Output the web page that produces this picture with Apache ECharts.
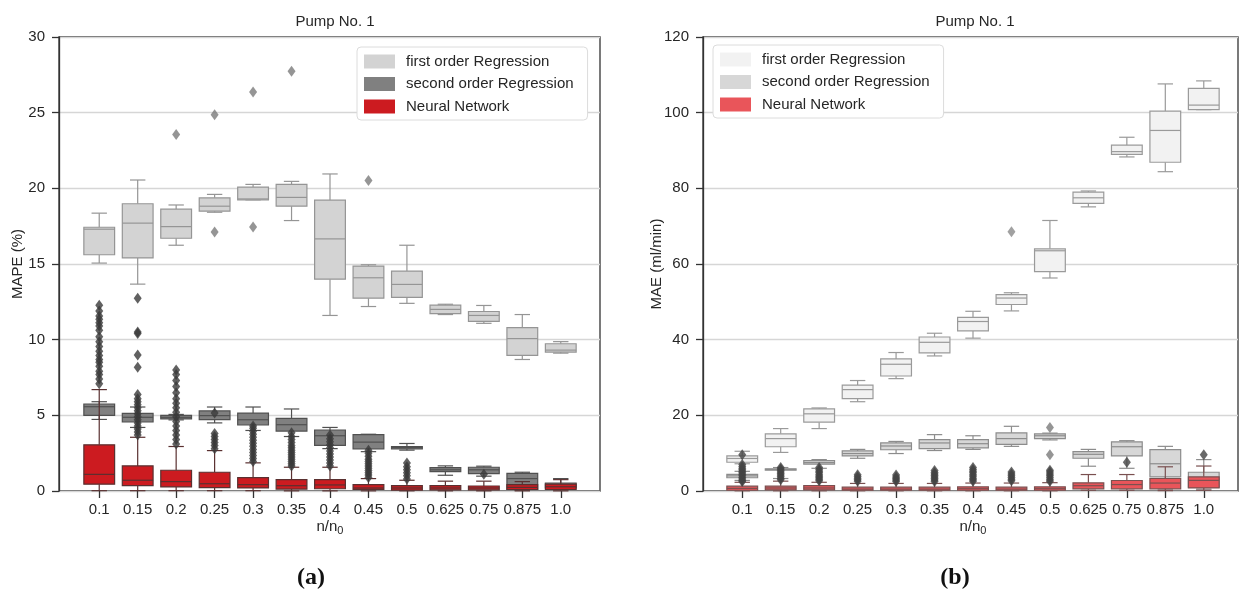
<!DOCTYPE html>
<html><head><meta charset="utf-8">
<script src="https://cdn.jsdelivr.net/npm/echarts@6/dist/echarts.min.js"></script>
<style>html,body{margin:0;padding:0;background:#fff}#c{width:1240px;height:590px}</style>
</head><body><div id="c"></div>
<script>
const categories = ['0.1','0.15','0.2','0.25','0.3','0.35','0.4','0.45','0.5','0.625','0.75','0.875','1.0'];
const seriesNames = ['first order Regression','second order Regression','Neural Network'];
const mapeTicks = [0,5,10,15,20,25,30];
const maeTicks = [0,20,40,60,80,100,120];

// [whisker low, Q1, median, Q3, whisker high]
const mapeFirst = [[15.06,15.61,17.3,17.43,18.36],[13.67,15.4,17.7,18.98,20.55],[16.24,16.7,17.47,18.62,18.9],[18.42,18.49,18.82,19.37,19.6],[19.24,19.24,19.3,20.08,20.26],[17.87,18.82,19.4,20.26,20.46],[11.6,14.0,16.66,19.22,20.95],[12.19,12.74,14.09,14.86,14.95],[12.4,12.8,13.65,14.53,16.24],[11.66,11.72,12.0,12.28,12.34],[11.08,11.21,11.6,11.86,12.26],[8.69,8.96,10.07,10.8,11.66],[9.11,9.18,9.31,9.73,9.87]];
const mapeFirstOut = [[],[],[23.55],[24.86,17.12],[26.37,17.45],[27.74],[],[20.52],[],[],[],[],[]];
const mapeSecond = [[4.73,5.0,5.57,5.75,5.9],[4.2,4.56,4.87,5.13,5.55],[4.7,4.76,4.87,5.0,5.06],[4.5,4.71,4.98,5.29,5.55],[4.0,4.36,4.71,5.15,5.55],[3.6,3.96,4.38,4.8,5.42],[2.8,3.01,3.65,4.03,4.2],[2.6,2.79,3.23,3.72,3.75],[2.7,2.79,2.87,2.94,3.14],[1.04,1.28,1.4,1.55,1.66],[0.98,1.15,1.4,1.57,1.64],[0.05,0.11,0.82,1.17,1.24],[0.1,0.2,0.4,0.53,0.82]];
const mapeSecondOut = [[],[],[],[],[],[],[],[],[],[],[],[],[]];
const mapeNN = [[0.02,0.45,1.1,3.05,6.7],[0.02,0.35,0.71,1.66,3.55],[0.02,0.27,0.62,1.37,2.94],[0.02,0.22,0.48,1.24,2.67],[0.02,0.2,0.42,0.88,1.86],[0.01,0.13,0.35,0.75,1.57],[0.01,0.15,0.4,0.75,1.57],[0.01,0.11,0.2,0.42,0.82],[0.01,0.06,0.2,0.35,0.71],[0.01,0.08,0.2,0.35,0.65],[0.01,0.08,0.2,0.33,0.65],[0.01,0.1,0.24,0.42,0.62],[0.01,0.1,0.28,0.46,0.75]];
const mapeNNOut = [
  [7.08,7.4,7.7,7.92,8.25,8.5,8.69,8.95,9.24,9.55,9.87,10.2,10.62,10.9,11.12,11.35,11.57,11.9,12.28],
  [3.7,3.9,4.1,4.3,4.5,4.7,4.9,5.1,5.3,5.5,5.7,5.9,6.1,6.37,8.18,8.98,10.4,10.5,12.74],
  [3.1,3.4,3.7,4.0,4.3,4.6,4.9,5.2,5.5,5.8,6.1,6.5,6.9,7.3,7.7,8.0],
  [2.8,3.0,3.2,3.4,3.6,3.8,5.15],
  [1.95,2.15,2.35,2.55,2.75,2.95,3.15,3.35,3.55,3.75,3.95,4.15,4.3],
  [1.65,1.8,1.95,2.1,2.25,2.4,2.55,2.7,2.85,3.0,3.2,3.4,3.6,3.85],
  [1.65,1.85,2.05,2.25,2.45,2.65,2.85,3.05,3.25,3.45,3.7],
  [0.9,1.05,1.2,1.35,1.5,1.65,1.8,1.95,2.1,2.3,2.5,2.7],
  [0.8,1.0,1.2,1.4,1.6,1.85],
  [],[1.1],[],[]];

const maeFirst = [[7.2,7.6,8.6,9.28,10.5],[10.2,11.7,13.85,15.1,16.5],[16.5,18.2,20.4,21.7,21.95],[23.6,24.4,26.8,28.0,29.2],[29.7,30.4,33.5,34.9,36.6],[35.7,36.5,39.3,40.7,41.7],[40.4,42.3,44.8,45.9,47.5],[47.6,49.3,51.0,51.9,52.4],[56.3,58.0,63.5,64.0,71.5],[75.1,76.0,77.5,79.0,79.3],[88.3,89.0,89.7,91.4,93.5],[84.4,86.9,95.3,100.4,107.6],[100.8,100.8,102.0,106.4,108.4]];
const maeFirstOut = [[],[],[],[],[],[],[],[68.5],[],[],[],[],[]];
const maeSecond = [[2.8,3.5,4.0,4.4,5.2],[3.3,5.5,5.7,5.85,6.2],[6.0,7.08,7.5,8.05,8.3],[8.65,9.3,9.9,10.6,11.0],[9.9,10.9,11.9,12.7,13.1],[10.7,11.2,12.7,13.6,14.9],[11.0,11.4,12.5,13.6,14.6],[11.8,12.3,13.85,15.35,17.1],[13.5,13.85,14.6,15.1,15.3],[6.55,8.65,9.7,10.4,11.0],[6.0,9.3,11.7,13.0,13.3],[0.5,3.74,7.2,10.95,11.8],[0.5,1.0,3.0,4.96,8.3]];
const maeSecondOut = [[],[],[],[],[],[],[],[],[16.8,9.55],[],[],[],[]];
const maeNN = [[0.05,0.2,0.7,1.27,2.3],[0.05,0.3,0.8,1.27,2.6],[0.05,0.3,0.8,1.4,2.3],[0.05,0.2,0.5,1.0,2.0],[0.05,0.2,0.5,1.0,2.0],[0.05,0.2,0.5,1.0,2.0],[0.05,0.2,0.6,1.1,2.1],[0.05,0.2,0.5,1.0,2.1],[0.05,0.2,0.6,1.1,2.2],[0.2,0.58,1.4,2.16,4.35],[0.2,0.58,1.7,2.77,4.35],[0.1,0.58,2.1,3.3,6.4],[0.2,0.8,2.8,3.74,6.6]];
const maeNNOut = [
  [2.5,2.8,3.2,3.6,4.0,4.4,4.8,5.2,5.6,6.0,6.5,7.0,9.6],
  [3.0,3.4,3.8,4.2,4.6,5.0,5.4,5.8,6.2],
  [2.7,3.1,3.5,3.9,4.3,4.8,5.2,5.7,6.2],
  [2.6,3.0,3.4,3.8,4.3],
  [2.5,2.9,3.3,3.7,4.2],
  [2.5,2.9,3.3,3.7,4.1,4.5,4.9,5.4],
  [2.6,3.0,3.4,3.9,4.3,4.8,5.2,5.7,6.2],
  [2.7,3.1,3.6,4.0,4.5,5.0],
  [2.6,3.0,3.5,4.0,4.5,5.0,5.5],
  [],[7.6],[],[9.6]];

const FONT = '"Liberation Sans", Arial, sans-serif';
const TXT = '#262626';

function boxData(arr){ return arr.map((b,i)=>[i].concat(b)); }
function outData(arr){ const r=[]; arr.forEach((l,i)=>l.forEach(v=>r.push([i,v]))); return r; }

function boxSeries(name, ax, data, fill, edge){
  return {
    type:'custom', name, xAxisIndex:ax, yAxisIndex:ax, data:boxData(data),
    encode:{x:0, y:[1,2,3,4,5]}, itemStyle:{color:fill}, silent:true,
    renderItem:function(params, api){
      const i = api.value(0);
      const lo = api.coord([i, api.value(1)]);
      const q1 = api.coord([i, api.value(2)]);
      const md = api.coord([i, api.value(3)]);
      const q3 = api.coord([i, api.value(4)]);
      const hi = api.coord([i, api.value(5)]);
      const bw = api.size([1,0])[0]*0.8;
      const cx = lo[0];
      const ls = {stroke:edge, lineWidth:1.2};
      return {type:'group', children:[
        {type:'line', shape:{x1:cx,y1:q3[1],x2:cx,y2:hi[1]}, style:ls},
        {type:'line', shape:{x1:cx-bw/4,y1:hi[1],x2:cx+bw/4,y2:hi[1]}, style:ls},
        {type:'line', shape:{x1:cx,y1:q1[1],x2:cx,y2:lo[1]}, style:ls},
        {type:'line', shape:{x1:cx-bw/4,y1:lo[1],x2:cx+bw/4,y2:lo[1]}, style:ls},
        {type:'rect', shape:{x:cx-bw/2,y:q3[1],width:bw,height:q1[1]-q3[1]}, style:{fill:fill, stroke:edge, lineWidth:1.2}},
        {type:'line', shape:{x1:cx-bw/2,y1:md[1],x2:cx+bw/2,y2:md[1]}, style:ls}
      ]};
    }
  };
}
function outSeries(name, ax, data, color){
  return {type:'scatter', name, xAxisIndex:ax, yAxisIndex:ax, data:outData(data),
    symbol:'diamond', symbolSize:[8,11], itemStyle:{color:color}, silent:true};
}

const L = {frameLeft:59, dataLeft:80, top:37, height:454};
const R = {frameLeft:703, dataLeft:723, top:37, height:454};

function frameAxes(gi, max, interval, name, gap){
  return {
    x:{type:'value', gridIndex:gi, min:0, max:1, show:false},
    y:{type:'value', gridIndex:gi, min:0, max:max, interval:interval,
      name:name, nameLocation:'middle', nameGap:gap, nameMoveOverlap:false,
      nameTextStyle:{fontSize:15, color:TXT, fontFamily:FONT},
      axisLine:{show:true, lineStyle:{color:'#333', width:1.3}},
      axisTick:{show:true, length:7, lineStyle:{color:'#333', width:1.3}},
      axisLabel:{fontSize:15, color:TXT, fontFamily:FONT, margin:14},
      splitLine:{show:true, lineStyle:{color:'#d6d6d6', width:1.3}}}
  };
}
function dataAxes(gi, max){
  return {
    x:{type:'category', gridIndex:gi, data:categories, boundaryGap:true,
      name:'{a|n/n}{s|0}', nameLocation:'middle', nameGap:26, nameMoveOverlap:false,
      nameTextStyle:{fontSize:15, color:TXT, fontFamily:FONT,
        rich:{a:{fontSize:15, color:TXT, fontFamily:FONT}, s:{fontSize:11, color:TXT, fontFamily:FONT, padding:[8,0,0,0]}}},
      axisLine:{show:false}, axisTick:{show:true, alignWithLabel:true, length:7, lineStyle:{color:'#333', width:1.3}},
      axisLabel:{fontSize:15, color:TXT, fontFamily:FONT, margin:11, interval:0}},
    y:{type:'value', gridIndex:gi, min:0, max:max, show:false}
  };
}
const fa = frameAxes(0, 30, 5, 'MAPE (%)', 34);
const da = dataAxes(1, 30);
const fb = frameAxes(2, 120, 20, 'MAE (ml/min)', 39);
const db = dataAxes(3, 120);

function legendFor(left, top, colors){
  return {left:left, top:top, orient:'vertical', selectedMode:false, icon:'rect',
    itemWidth:31, itemHeight:14, itemGap:7.5,
    backgroundColor:'#fff', borderColor:'#dcdcdc', borderWidth:1, borderRadius:4,
    padding:[7,14,6,7],
    textStyle:{fontSize:15, color:TXT, fontFamily:FONT, padding:[0,0,0,6]},
    data: seriesNames.map((n,k)=>({name:n, itemStyle:{color:colors[k], borderWidth:0}}))};
}
const captionRich = {p:{fontSize:24, fontFamily:'"Liberation Serif", serif', color:'#111'}, b:{fontSize:24, fontWeight:'bold', fontFamily:'"Liberation Serif", serif', color:'#111'}};

const option = {
  animation:false,
  backgroundColor:'#fff',
  title:[
    {text:'Pump No. 1', left:330, top:9, textAlign:'center', textStyle:{fontSize:15, fontWeight:'normal', color:TXT, fontFamily:FONT}},
    {text:'Pump No. 1', left:970, top:9, textAlign:'center', textStyle:{fontSize:15, fontWeight:'normal', color:TXT, fontFamily:FONT}},
    {text:'{p|(}{b|a}{p|)}', left:306, top:561, textAlign:'center', textStyle:{rich:captionRich}},
    {text:'{p|(}{b|b}{p|)}', left:950, top:561, textAlign:'center', textStyle:{rich:captionRich}}
  ],
  grid:[
    {left:L.frameLeft, top:L.top, width:541, height:L.height, show:true, borderColor:'#333', borderWidth:1.3, backgroundColor:'transparent'},
    {left:L.dataLeft, top:L.top, width:500, height:L.height},
    {left:R.frameLeft, top:R.top, width:535, height:R.height, show:true, borderColor:'#333', borderWidth:1.3, backgroundColor:'transparent'},
    {left:R.dataLeft, top:R.top, width:500, height:R.height}
  ],
  xAxis:[fa.x, da.x, fb.x, db.x],
  yAxis:[fa.y, da.y, fb.y, db.y],
  legend:[
    legendFor(357, 47, ['#d3d3d3','#808080','#cc1b20']),
    legendFor(713, 45, ['#f2f2f2','#d7d7d7','#e9555a'])
  ],
  series:[
    boxSeries(seriesNames[0], 1, mapeFirst, '#d3d3d3', '#959595'),
    outSeries(seriesNames[0], 1, mapeFirstOut, '#7a7a7a'),
    boxSeries(seriesNames[1], 1, mapeSecond, '#808080', '#505050'),
    outSeries(seriesNames[1], 1, mapeSecondOut, '#4a4a4a'),
    boxSeries(seriesNames[2], 1, mapeNN, '#cc1b20', '#5a3030'),
    outSeries(seriesNames[2], 1, mapeNNOut, '#3a3a3a'),
    boxSeries(seriesNames[0], 3, maeFirst, '#f2f2f2', '#9a9a9a'),
    outSeries(seriesNames[0], 3, maeFirstOut, '#8a8a8a'),
    boxSeries(seriesNames[1], 3, maeSecond, '#d7d7d7', '#8c8c8c'),
    outSeries(seriesNames[1], 3, maeSecondOut, '#7a7a7a'),
    boxSeries(seriesNames[2], 3, maeNN, '#e9555a', '#7a5050'),
    outSeries(seriesNames[2], 3, maeNNOut, '#444444')
  ]
};
const chart = echarts.init(document.getElementById('c'), null, {renderer:'canvas'});
chart.setOption(option);
</script></body></html>
